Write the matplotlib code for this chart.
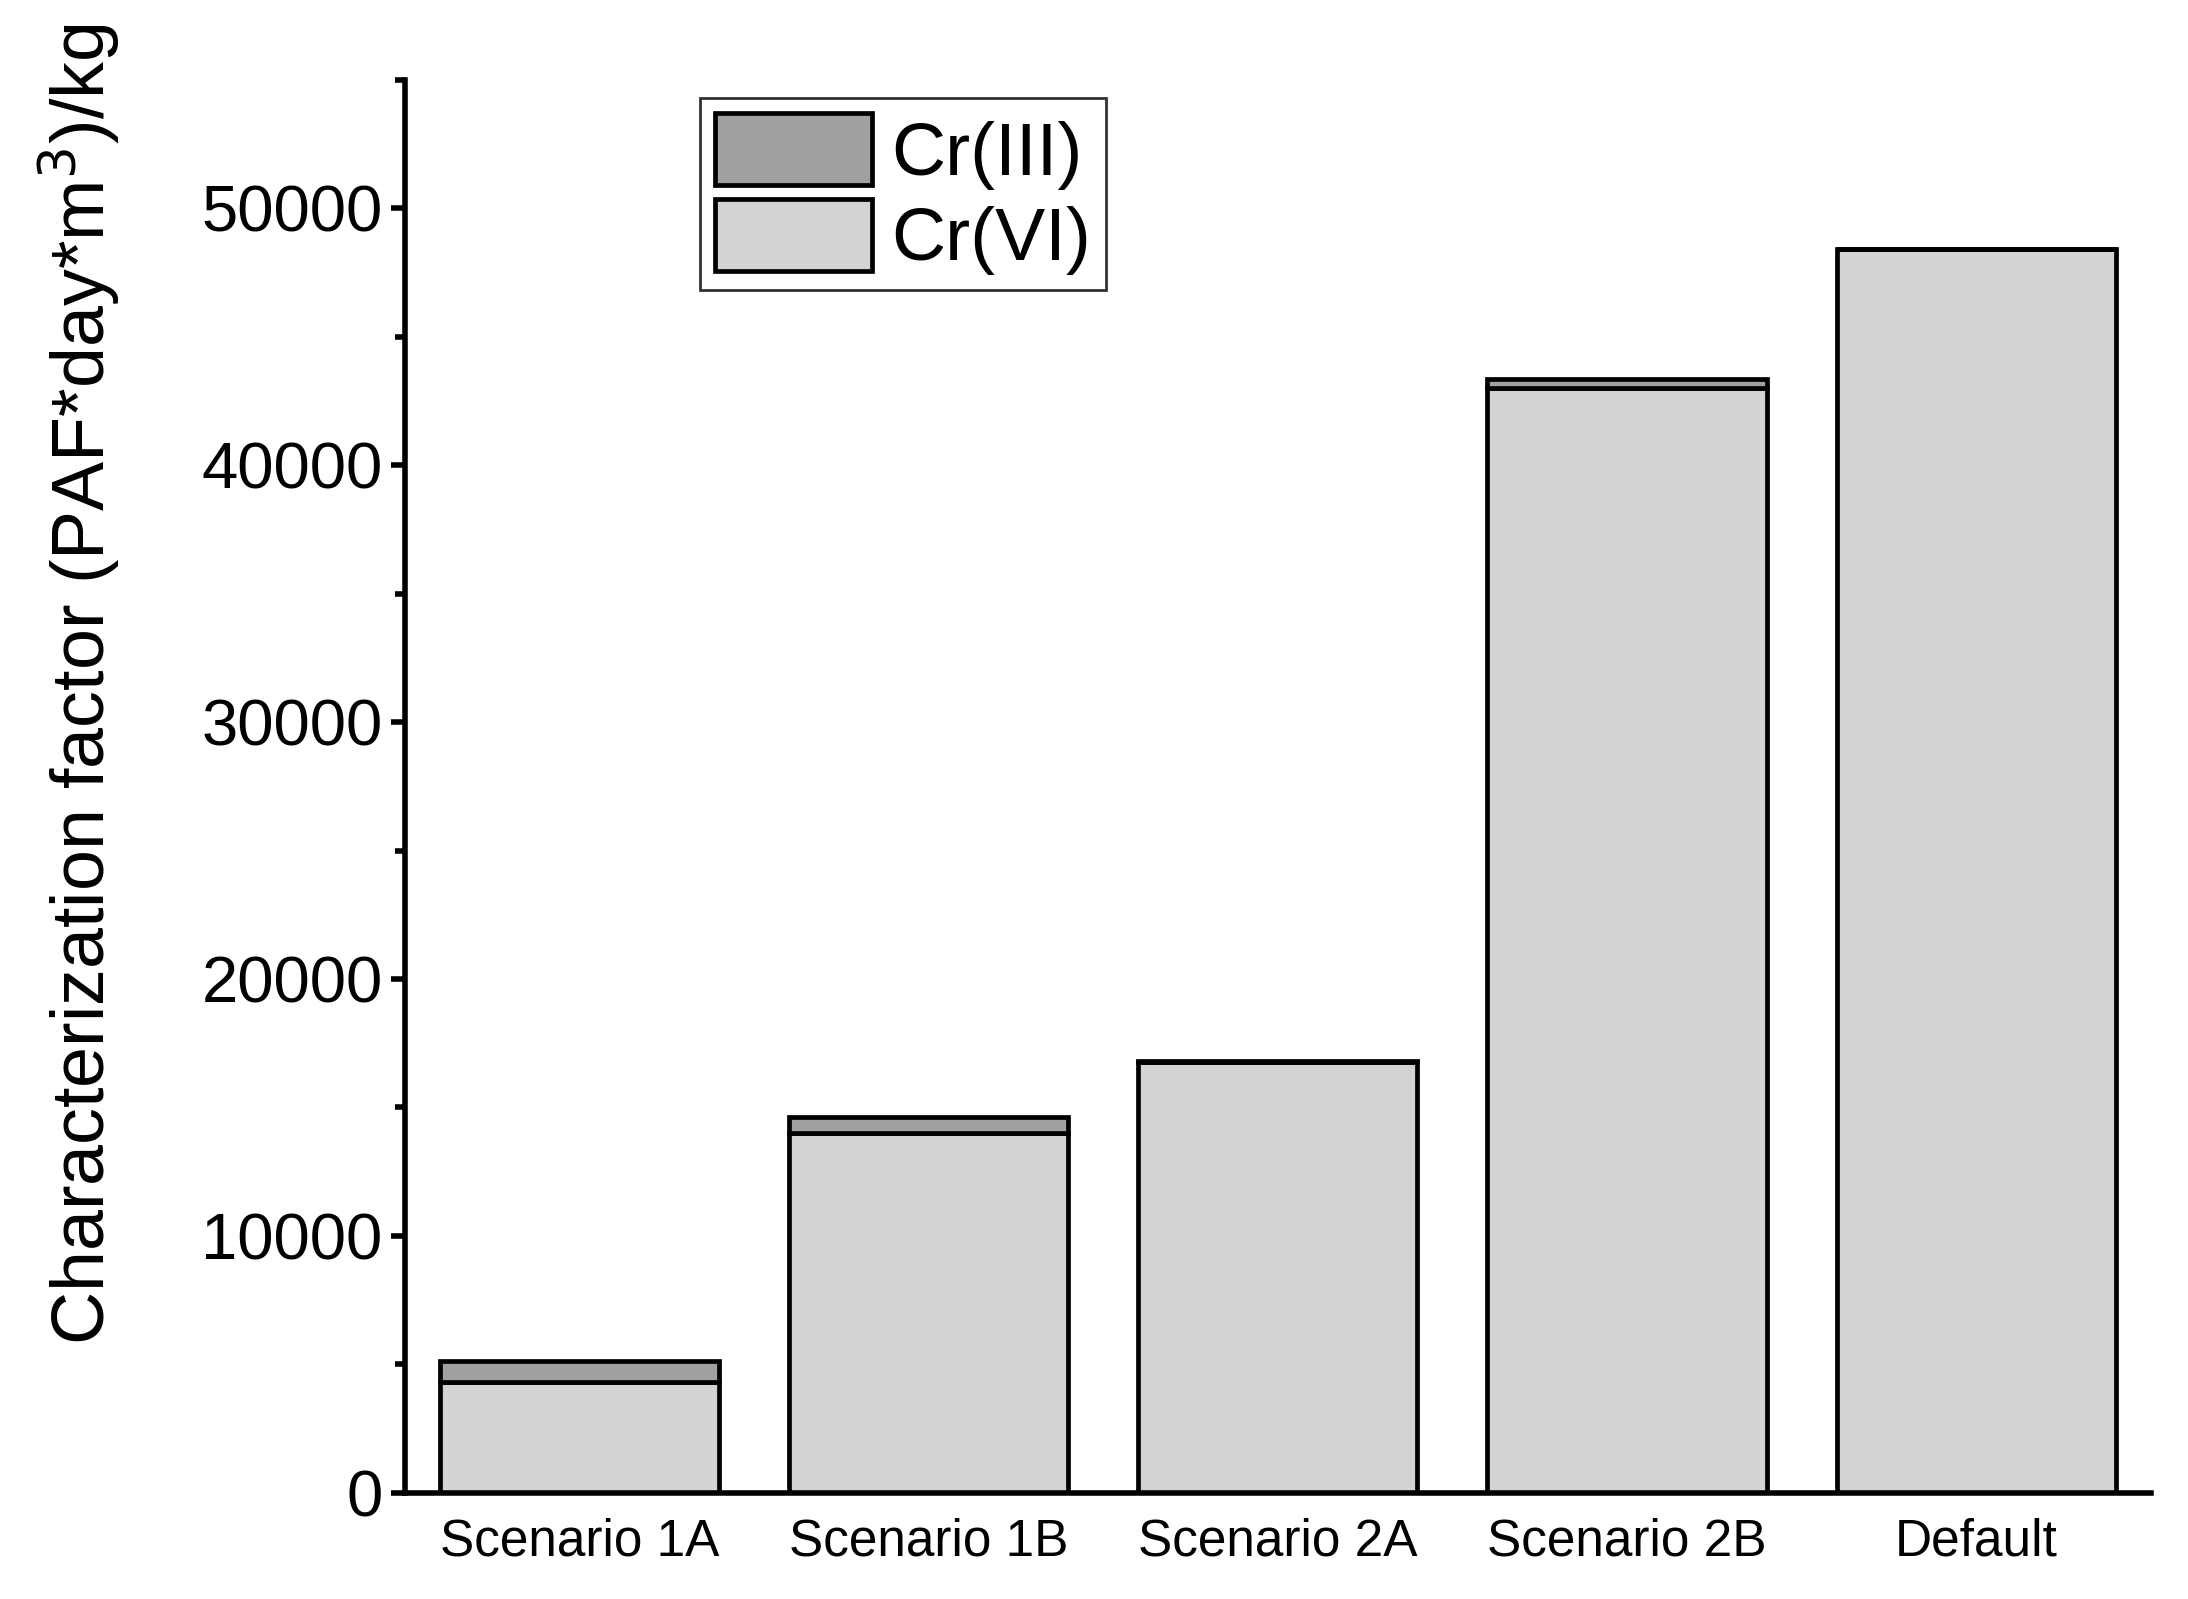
import matplotlib.pyplot as plt
import numpy as np
from matplotlib.ticker import MultipleLocator

plt.rcParams['font.family'] = ['Liberation Sans', 'DejaVu Sans']

# values
scenarios = ['Scenario 1A', 'Scenario 1B', 'Scenario 2A', 'Scenario 2B', 'Default']
cr_vi = [4300, 14020, 16750, 42990, 48400]
cr_iii = [810, 600, 60, 380, 30]

fig = plt.figure(figsize=(10.94, 7.995), dpi=200)
ax = fig.add_axes([0.185, 0.0665, 0.798, 0.8835])

x = np.arange(len(scenarios))
ax.bar(x, cr_vi, width=0.8, color='#d3d3d3', edgecolor='black', linewidth=1.7, label='Cr(VI)')
ax.bar(x, cr_iii, width=0.8, bottom=cr_vi, color='#a0a0a0', edgecolor='black', linewidth=1.7, label='Cr(III)')

ax.set_xlim(-0.5, 4.5)
ax.set_ylim(0, 55000)
ax.set_xticks(x)
ax.set_xticklabels(scenarios, fontsize=18.5)
ax.tick_params(axis='x', length=0, pad=9)
ax.yaxis.set_major_locator(MultipleLocator(10000))
ax.yaxis.set_minor_locator(MultipleLocator(5000))
ax.tick_params(axis='y', which='major', direction='out', length=5, width=2, labelsize=23.5, pad=3)
ax.tick_params(axis='y', which='minor', direction='out', length=3.5, width=2)

for s in ['top', 'right']:
    ax.spines[s].set_visible(False)
for s in ['left', 'bottom']:
    ax.spines[s].set_linewidth(2)

ax.set_ylabel('Characterization factor (PAF*day*m$^3$)/kg', fontsize=26.5)
ax.yaxis.set_label_coords(-0.162, 0.572)

# legend: Cr(III) above Cr(VI)
h, l = ax.get_legend_handles_labels()
leg = ax.legend(h[::-1], l[::-1], loc='upper left', bbox_to_anchor=(0.169, 0.987),
                fontsize=27, frameon=True, fancybox=False, edgecolor='black',
                handlelength=2.1, handleheight=1.1, labelspacing=0.12,
                handletextpad=0.25, borderpad=0.2, borderaxespad=0)
leg.get_frame().set_linewidth(1.0)

fig.savefig('out.png', dpi=200)
